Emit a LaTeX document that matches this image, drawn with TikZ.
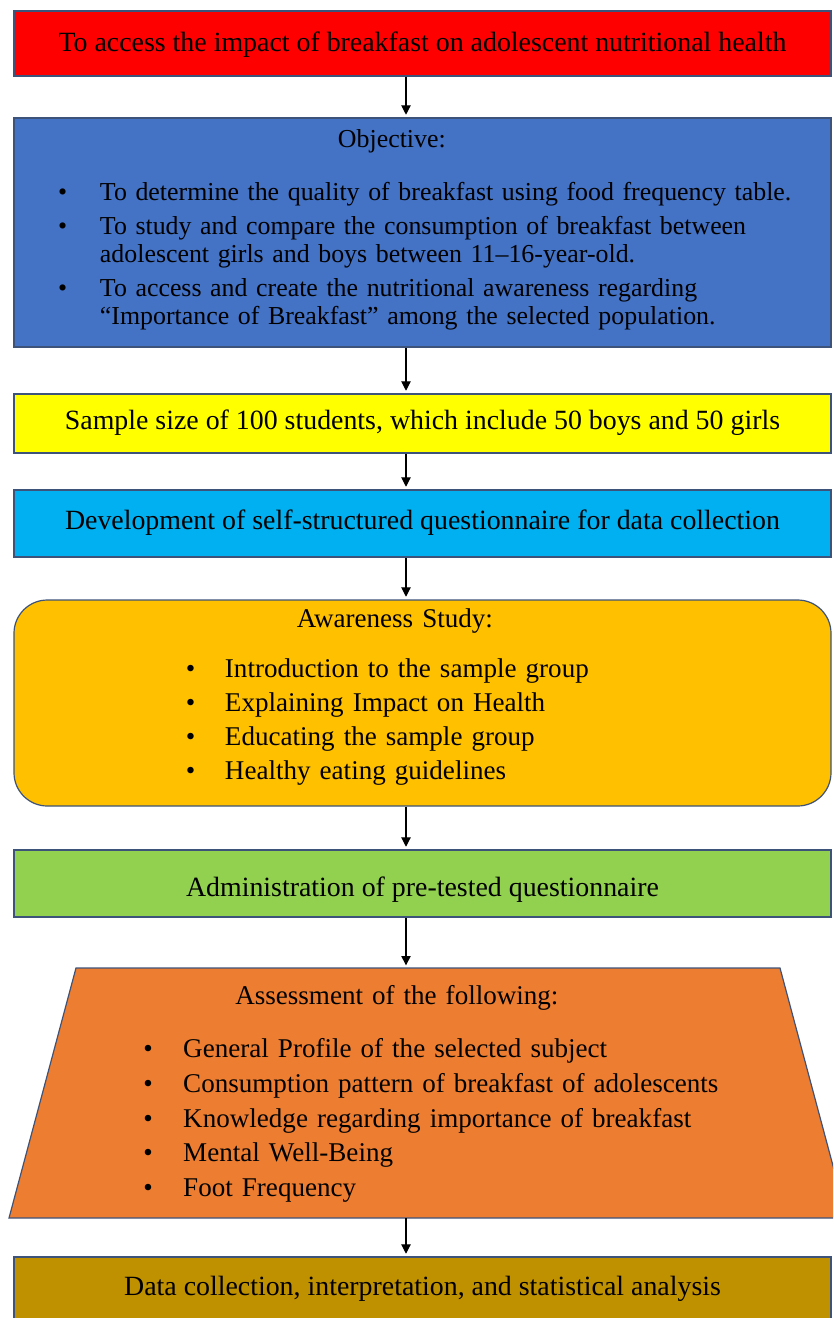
\documentclass[tikz,border=0pt]{standalone}
\usepackage{fontspec}
\setmainfont{Liberation Serif}
\usetikzlibrary{arrows.meta}

\definecolor{edge}{HTML}{3E5379}
\definecolor{aimred}{HTML}{FF0000}
\definecolor{objblue}{HTML}{4472C4}
\definecolor{sampyellow}{HTML}{FFFF00}
\definecolor{quescyan}{HTML}{00B0F0}
\definecolor{awareamber}{HTML}{FFC000}
\definecolor{admgreen}{HTML}{92D050}
\definecolor{assessorange}{HTML}{ED7D31}
\definecolor{datagold}{HTML}{BF9000}

% one pixel of the drawing
\newlength\px \setlength\px{0.75pt}
\newlength\bulpos
\newlength\bulind
% bullet line: space before, text
\newcommand\bitem[2]{\par\vspace{#1}\hangindent=\bulind\hangafter=1\noindent
  \makebox[\bulind][l]{\hspace*{\bulpos}\textbullet}#2}
% empty space kept at the foot of a box
\newcommand\footpad[1]{\par\vspace{#1}\hrule height 0pt width 0pt}

\begin{document}
\begin{tikzpicture}[
    x=0.75pt, y=-0.75pt,
    box/.style={draw=edge, line width=0.9pt, minimum width=612.75pt, inner sep=0pt,
      font=\fontsize{20.9}{21}\selectfont},
    single/.style={box, text height=14pt, text depth=4.5pt},
    multi/.style={box, text width=612.75pt, align=left, font=\fontsize{20.3}{21}\selectfont},
    link/.style={-{Triangle[length=7pt, width=7pt]}, line width=0.8pt, shorten >=2pt},
  ]
  \useasboundingbox (0,0) rectangle (833,1318);
  \clip (0,0) rectangle (833,1318);

  \node[single, fill=aimred, minimum height=48.75pt, text height=17pt] (aim) at (422.5,43.5)
    {To access the impact of breakfast on adolescent nutritional health};

  \node[multi, fill=objblue, minimum height=171.75pt,
    font=\fontsize{19.4}{20.5}\selectfont] (objective) at (422.5,232.5) {%
    \setlength\bulpos{44\px}\setlength\bulind{86\px}%
    \hspace*{324\px}Objective:
    \bitem{19pt}{To determine the quality of breakfast using food frequency table.}
    \bitem{5.5pt}{To study and compare the consumption of breakfast between\newline
      adolescent girls and boys between 11–16-year-old.}
    \bitem{5.5pt}{To access and create the nutritional awareness regarding\newline
      “Importance of Breakfast” among the selected population.}
    \footpad{4.5pt}};

  \node[single, fill=sampyellow, minimum height=44.25pt] (sample) at (422.5,423.5)
    {Sample size of 100 students, which include 50 boys and 50 girls};

  \node[single, fill=quescyan, minimum height=50.25pt] (develop) at (422.5,523.5)
    {Development of self-structured questionnaire for data collection};

  \node[multi, fill=awareamber, rounded corners=25pt, minimum height=154.5pt] (awareness) at (422.5,703) {%
    \setlength\bulpos{172\px}\setlength\bulind{211\px}%
    \hspace*{283\px}Awareness Study:
    \bitem{17pt}{Introduction to the sample group}
    \bitem{4.5pt}{Explaining Impact on Health}
    \bitem{4.5pt}{Educating the sample group}
    \bitem{4.5pt}{Healthy eating guidelines}
    \footpad{9pt}};

  \node[single, fill=admgreen, minimum height=50.25pt, text height=21.5pt, text depth=2pt] (admin) at (422.5,883.5)
    {Administration of pre-tested questionnaire};

  % trapezium, sides leaning in at the top
  \draw[draw=edge, line width=0.9pt, fill=assessorange]
    (76,968) coordinate (assesstop) -- (780,968) -- (847,1218) -- (9,1218) coordinate (assessfoot) -- cycle;
  \node[font=\fontsize{20.3}{21}\selectfont, text width=520pt, align=left, inner sep=0pt,
    anchor=west] (assesslist) at (120,1094) {%
    \setlength\bulpos{23\px}\setlength\bulind{63\px}%
    \hspace*{115\px}Assessment of the following:
    \bitem{19pt}{General Profile of the selected subject}
    \bitem{5pt}{Consumption pattern of breakfast of adolescents}
    \bitem{5pt}{Knowledge regarding importance of breakfast}
    \bitem{5pt}{Mental Well-Being}
    \bitem{5pt}{Foot Frequency}\par};

  \node[single, fill=datagold, minimum height=48.75pt] (analysis) at (422.5,1289.5)
    {Data collection, interpretation, and statistical analysis};

  % arrows run down one line, left of the box centres
  \coordinate (spine) at (406,0);
  \foreach \a/\b in {aim/objective, objective/sample, sample/develop, develop/awareness,
      awareness/admin}
    \draw[link] (\a.south -| spine) -- (\b.north -| spine);
  \draw[link] (admin.south -| spine) -- (assesstop -| spine);
  \draw[link] (assessfoot -| spine) -- (analysis.north -| spine);
\end{tikzpicture}
\end{document}
